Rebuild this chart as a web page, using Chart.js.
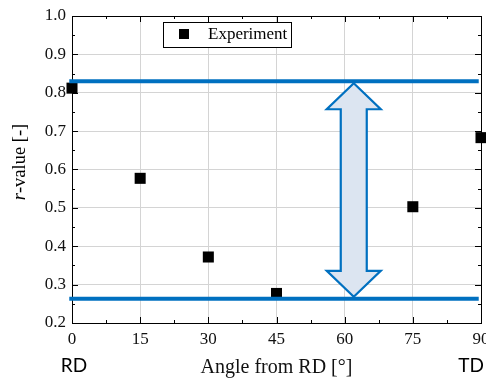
<!DOCTYPE html>
<html>
<head>
<meta charset="utf-8">
<script src="https://cdn.jsdelivr.net/npm/chart.js@4/dist/chart.umd.min.js"></script>
<style>
  html, body { margin: 0; padding: 0; background: #fff; }
  #wrap { width: 486px; height: 378px; position: relative; }
</style>
</head>
<body>
<div id="wrap"><canvas id="rChart"></canvas></div>
<script>
// r-value vs angle from rolling direction
const angles = [0, 15, 30, 45, 75, 90];
const rValues = [0.812, 0.577, 0.372, 0.277, 0.503, 0.683];

// max / min band lines and the arrow between them
const upperLevel = 0.830;
const lowerLevel = 0.263;
const bandSpan = [-0.6, 89.5];
const arrowAngle = 62;

const xTickStep = 15;
const yTickStep = 0.1;
const directionLabels = ['RD', 'TD'];

const SERIF = '"Liberation Serif", "Times New Roman", serif';
const BLUE = '#0070c0';

const framePlugin = {
    id: 'frame_and_ticks',
    beforeDatasetsDraw: (chart) => {
        const ctx = chart.ctx;
        const a = chart.chartArea;
        const xs = chart.scales.x, ys = chart.scales.y;
        ctx.save();
        ctx.strokeStyle = '#000';
        ctx.lineWidth = 1;
        ctx.strokeRect(Math.round(a.left) + 0.5, Math.round(a.top) + 0.5,
            Math.round(a.right - a.left), Math.round(a.bottom - a.top));
        ctx.beginPath();
        // inward ticks on x (bottom + top)
        for (let v = 0; v <= 90 + 1e-6; v += xTickStep / 2) {
            const px = Math.round(xs.getPixelForValue(v)) + 0.5;
            const len = (Math.round(v / xTickStep * 2) % 2 === 0) ? 6 : 3;
            ctx.moveTo(px, a.bottom); ctx.lineTo(px, a.bottom - len);
            ctx.moveTo(px, a.top); ctx.lineTo(px, a.top + len);
        }
        // inward ticks on y (left + right)
        for (let i = 0; i <= 16; i++) {
            const v = 0.2 + i * yTickStep / 2;
            const py = Math.round(ys.getPixelForValue(v)) + 0.5;
            const len = (i % 2 === 0) ? 6 : 3;
            ctx.moveTo(a.left, py); ctx.lineTo(a.left + len, py);
            ctx.moveTo(a.right, py); ctx.lineTo(a.right - len, py);
        }
        ctx.stroke();
        ctx.restore();
    },
    afterDatasetsDraw: (chart) => {
        // double arrow between the two band lines
        const ctx = chart.ctx;
        const xs = chart.scales.x, ys = chart.scales.y;
        const x = xs.getPixelForValue(arrowAngle);
        const yTop = ys.getPixelForValue(upperLevel) + 2;
        const yBot = ys.getPixelForValue(lowerLevel) - 2;
        const hw = 27, sw = 13, hh = 26;
        ctx.save();
        ctx.beginPath();
        ctx.moveTo(x, yTop);
        ctx.lineTo(x + hw, yTop + hh);
        ctx.lineTo(x + sw, yTop + hh);
        ctx.lineTo(x + sw, yBot - hh);
        ctx.lineTo(x + hw, yBot - hh);
        ctx.lineTo(x, yBot);
        ctx.lineTo(x - hw, yBot - hh);
        ctx.lineTo(x - sw, yBot - hh);
        ctx.lineTo(x - sw, yTop + hh);
        ctx.lineTo(x - hw, yTop + hh);
        ctx.closePath();
        ctx.fillStyle = '#dce5f1';
        ctx.fill();
        ctx.strokeStyle = BLUE;
        ctx.lineWidth = 2.2;
        ctx.lineJoin = 'miter';
        ctx.stroke();
        ctx.restore();
    },
    afterDraw: (chart) => {
        const ctx = chart.ctx;
        const xs = chart.scales.x;
        ctx.save();

        // legend box
        const exp = chart.data.datasets[2];
        ctx.fillStyle = '#fff';
        ctx.fillRect(163, 22, 128, 25);
        ctx.strokeStyle = '#000';
        ctx.lineWidth = 1;
        ctx.strokeRect(163.5, 22.5, 128, 25);
        ctx.fillStyle = '#000';
        ctx.fillRect(179, 29, 10, 10);
        ctx.font = '17px ' + SERIF;
        ctx.textBaseline = 'middle';
        ctx.textAlign = 'left';
        ctx.fillText(exp.label, 208, 35);

        // y title with italic r
        const cy = 162;
        ctx.translate(20, cy);
        ctx.rotate(-Math.PI / 2);
        ctx.font = 'italic 18.5px ' + SERIF;
        const w1 = ctx.measureText('r').width;
        ctx.font = '18.5px ' + SERIF;
        const w2 = ctx.measureText('-value [-]').width;
        const start = -(w1 + w2) / 2;
        ctx.font = 'italic 18.5px ' + SERIF;
        ctx.fillText('r', start, 0);
        ctx.font = '18.5px ' + SERIF;
        ctx.fillText('-value [-]', start + w1, 0);
        ctx.setTransform(1, 0, 0, 1, 0, 0);

        // RD / TD direction labels
        ctx.font = '19px Lato, "Open Sans", sans-serif';
        ctx.textAlign = 'center';
        ctx.fillText(directionLabels[0], xs.getPixelForValue(0) + 2, 366);
        ctx.fillText(directionLabels[1], xs.getPixelForValue(90) - 10, 366);
        ctx.restore();
    }
};

const ctx = document.getElementById('rChart').getContext('2d');
const rChart = new Chart(ctx, {
    type: 'scatter',
    data: {
        datasets: [
            {
                label: 'max',
                data: bandSpan.map(x => ({ x: x, y: upperLevel })),
                showLine: true,
                borderColor: BLUE,
                borderWidth: 4,
                pointRadius: 0,
                clip: false
            },
            {
                label: 'min',
                data: bandSpan.map(x => ({ x: x, y: lowerLevel })),
                showLine: true,
                borderColor: BLUE,
                borderWidth: 4,
                pointRadius: 0,
                clip: false
            },
            {
                label: 'Experiment',
                data: angles.map((a, i) => ({ x: a, y: rValues[i] })),
                pointStyle: 'rect',
                pointRadius: 7.8,
                backgroundColor: '#000',
                borderWidth: 0,
                clip: false
            }
        ]
    },
    options: {
        responsive: true,
        maintainAspectRatio: false,
        animation: false,
        layout: { autoPadding: false, padding: { left: 0, right: 5, top: 16, bottom: 0 } },
        plugins: {
            legend: { display: false },
            tooltip: { enabled: false }
        },
        scales: {
            x: {
                type: 'linear',
                min: 0,
                max: 90,
                ticks: {
                    stepSize: xTickStep,
                    autoSkip: false,
                    maxRotation: 0,
                    color: '#111',
                    padding: 6,
                    font: { family: SERIF, size: 17 }
                },
                grid: { color: '#d4d4d4', lineWidth: 1, drawTicks: false },
                border: { display: false },
                title: {
                    display: true,
                    text: 'Angle from RD [°]',
                    color: '#111',
                    padding: 0,
                    font: { family: SERIF, size: 20, lineHeight: 1 }
                },
                afterFit: (s) => { s.height = 55; s.paddingLeft = 0; s.paddingRight = 0; }
            },
            y: {
                min: 0.2,
                max: 1.0,
                ticks: {
                    stepSize: yTickStep,
                    color: '#111',
                    padding: 6,
                    font: { family: SERIF, size: 17 },
                    callback: (v) => v.toFixed(1)
                },
                grid: { color: '#d4d4d4', lineWidth: 1, drawTicks: false },
                border: { display: false },
                afterFit: (s) => { s.width = 72; s.paddingTop = 0; s.paddingBottom = 0; }
            }
        }
    },
    plugins: [framePlugin]
});
</script>
</body>
</html>
